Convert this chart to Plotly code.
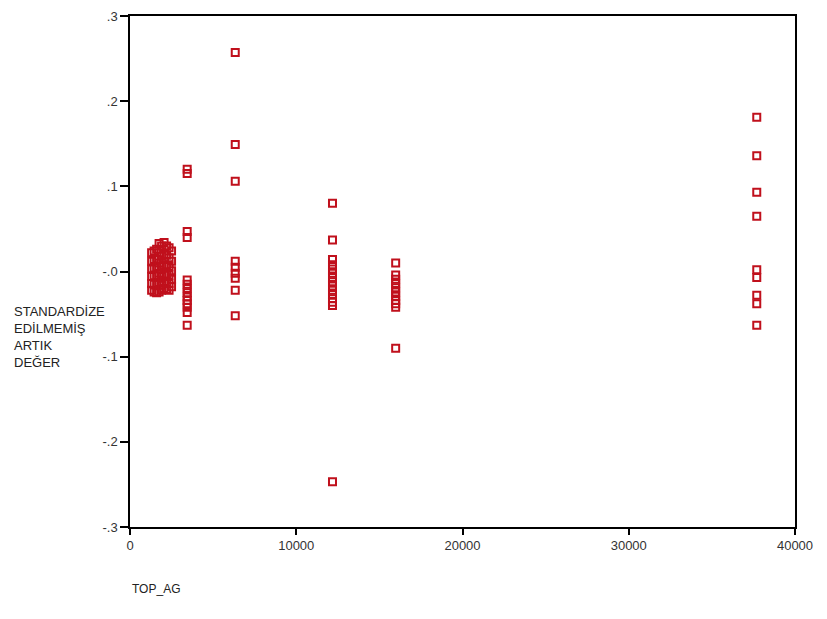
import plotly.graph_objects as go

# Data (x = TOP_AG, y = unstandardized residual)
cluster_x = ([1300]*6 + [1450]*6 + [1600]*6 + [1750]*6 + [1900]*6 + [2050]*6
             + [2200]*6 + [2350]*6 + [2500]*5)
cluster_y = [0.022, 0.012, 0.003, -0.006, -0.014, -0.022,
             0.024, 0.014, 0.004, -0.005, -0.015, -0.024,
             0.026, 0.015, 0.005, -0.005, -0.015, -0.025,
             0.033, 0.022, 0.010, -0.002, -0.013, -0.024,
             0.030, 0.018, 0.006, -0.006, -0.016, -0.022,
             0.034, 0.020, 0.008, -0.004, -0.012, -0.020,
             0.030, 0.019, 0.007, -0.003, -0.013, -0.021,
             0.028, 0.016, 0.006, -0.004, -0.014, -0.022,
             0.024, 0.012, 0.001, -0.009, -0.018]

col_3440_y = [0.120, 0.115, 0.047, 0.040, -0.010, -0.015, -0.020, -0.025, -0.030,
              -0.034, -0.038, -0.042, -0.048, -0.063]
col_6330_y = [0.257, 0.149, 0.106, 0.012, 0.005, -0.002, -0.008, -0.022, -0.052]
col_12180_y = [0.080, 0.037, 0.014, 0.008, 0.003, -0.002, -0.007, -0.012, -0.017,
               -0.022, -0.027, -0.032, -0.036, -0.040, -0.247]
col_15980_y = [0.010, -0.004, -0.009, -0.014, -0.019, -0.024, -0.029, -0.034,
               -0.038, -0.042, -0.090]
col_37700_y = [0.181, 0.136, 0.093, 0.065, 0.002, -0.007, -0.028, -0.038, -0.063]

xs = (cluster_x
      + [3440]*len(col_3440_y)
      + [6330]*len(col_6330_y)
      + [12180]*len(col_12180_y)
      + [15980]*len(col_15980_y)
      + [37700]*len(col_37700_y))
ys = cluster_y + col_3440_y + col_6330_y + col_12180_y + col_15980_y + col_37700_y

y_ticks = [0.3, 0.2, 0.1, 0.0, -0.1, -0.2, -0.3]
y_tick_text = [".3", ".2", ".1", "-.0", "-.1", "-.2", "-.3"]
x_ticks = [0, 10000, 20000, 30000, 40000]
x_tick_text = ["0", "10000", "20000", "30000", "40000"]

FONT = "Liberation Sans, Arial, sans-serif"
PLOT_H = 619 - 8 - 100

fig = go.Figure()
fig.add_trace(go.Scatter(
    x=xs, y=ys, mode="markers",
    marker=dict(symbol="square-open", size=7, color="#C0101C",
                line=dict(width=2, color="#C0101C")),
    showlegend=False, hoverinfo="skip"))

fig.update_layout(
    width=827, height=619,
    margin=dict(l=122, r=40, t=8, b=100, autoexpand=False),
    paper_bgcolor="white", plot_bgcolor="white",
    font=dict(family=FONT, size=13, color="#222222"),
    xaxis=dict(range=[0, 40000], tickvals=x_ticks, ticktext=x_tick_text, automargin=False,
               showgrid=False, zeroline=False, showline=True, linecolor="black",
               linewidth=1.5, mirror=True, ticks="outside", ticklen=6, tickcolor="black",
               tickwidth=1.5, ticklabeloverflow="allow",
               tickfont=dict(family=FONT, size=13, color="#333333")),
    yaxis=dict(range=[-0.3, 0.3], tickvals=y_ticks, ticktext=y_tick_text, automargin=False,
               showgrid=False, zeroline=False, showline=True, linecolor="black",
               linewidth=1.5, mirror=True, ticks="outside", ticklen=8, tickcolor="black",
               tickwidth=1.5, ticklabeloverflow="allow",
               tickfont=dict(family=FONT, size=13, color="#333333")),
    annotations=[
        dict(text="STANDARDİZE<br>EDİLMEMİŞ<br>ARTIK<br>DEĞER", xref="paper", yref="paper",
             x=-118/665, y=(527-302)/PLOT_H, xanchor="left", yanchor="top", align="left",
             showarrow=False, font=dict(family=FONT, size=13, color="#222222")),
        dict(text="TOP_AG", xref="paper", yref="paper",
             x=0, y=-(580-527)/PLOT_H, xanchor="left", yanchor="top", align="left",
             showarrow=False, font=dict(family=FONT, size=12, color="#222222")),
    ],
)

fig.write_html("out.html")
